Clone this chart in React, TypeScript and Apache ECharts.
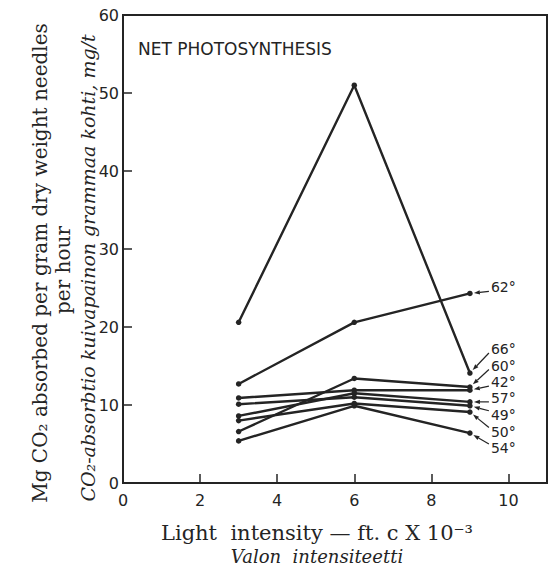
import { useEffect, useRef } from 'react';
import * as echarts from 'echarts';

// Light intensity (ft.c x 10^-3) at which measurements were taken
const lightIntensity = [3, 6, 9];

// Net photosynthesis, mg CO2 per gram dry weight of needles per hour, by temperature
const temperatureLabels = ['66°', '62°', '60°', '42°', '57°', '49°', '50°', '54°'];
const t66 = [20.6, 51.0, 14.1];
const t62 = [12.7, 20.6, 24.3];
const t60 = [6.6, 13.4, 12.3];
const t42 = [10.9, 11.9, 11.9];
const t57 = [8.6, 11.5, 10.4];
const t49 = [10.1, 11.0, 9.9];
const t50 = [8.0, 10.2, 9.1];
const t54 = [5.4, 9.9, 6.4];
const seriesValues = [t66, t62, t60, t42, t57, t49, t50, t54];

// Axis settings
const xMin = 0;
const xMax = 11;
const xInterval = 2;
const xLastLabel = 10;
const yMin = 0;
const yMax = 60;
const yInterval = 10;

// Text
const panelTitle = 'NET PHOTOSYNTHESIS';
const yTitle1 = 'Mg CO₂ absorbed per gram dry weight needles';
const yTitle2 = 'per hour';
const yTitle3 = 'CO₂-absorbtio kuivapainon grammaa kohti, mg/t';
const xTitle1 = 'Light  intensity — ft. c X 10⁻³';
const xTitle2 = 'Valon  intensiteetti';

// end-label placement offsets from the last point (style only)
const labelDx = 21;
const labelDy = [-24, -6, -21.5, -8, -3.5, 9, 19.5, 15];

const INK = '#242424';
const SANS = '"DejaVu Sans", sans-serif';
const SERIF = '"DejaVu Serif", "Liberation Serif", serif';

export default function App() {
  const ref = useRef<HTMLDivElement>(null);

  useEffect(() => {
    if (!ref.current) return;
    const chart = echarts.init(ref.current, undefined, { renderer: 'svg' });

    const series = seriesValues.map((vals, si) => ({
      type: 'line',
      name: temperatureLabels[si],
      data: lightIntensity.map((x, i) => [x, vals[i]]),
      symbol: 'circle',
      symbolSize: 5.5,
      lineStyle: { color: INK, width: 2.4 },
      itemStyle: { color: INK },
      emphasis: { disabled: true },
      z: 3,
    }));

    chart.setOption({
      animation: false,
      backgroundColor: '#ffffff',
      grid: {
        left: 123,
        right: -2,
        top: 15,
        bottom: 84,
        show: true,
        borderColor: INK,
        borderWidth: 2,
        backgroundColor: 'transparent',
      },
      xAxis: {
        type: 'value',
        min: xMin,
        max: xMax,
        interval: xInterval,
        axisLine: { show: true, onZero: false, lineStyle: { color: INK, width: 2 } },
        axisTick: { show: true, inside: true, length: 9, lineStyle: { color: INK, width: 1.5 } },
        splitLine: { show: false },
        axisLabel: {
          margin: 9,
          fontFamily: SANS,
          fontSize: 16,
          color: INK,
          formatter: (v: number) => (v > xLastLabel ? '' : String(v)),
        },
      },
      yAxis: {
        type: 'value',
        min: yMin,
        max: yMax,
        interval: yInterval,
        axisLine: { show: true, onZero: false, lineStyle: { color: INK, width: 2 } },
        axisTick: { show: true, inside: true, length: 9, lineStyle: { color: INK, width: 1.5 } },
        splitLine: { show: false },
        axisLabel: {
          margin: 4,
          fontFamily: SANS,
          fontSize: 16,
          color: INK,
        },
      },
      series,
    });

    // End labels with arrow leaders, positioned from the library's own coordinates
    const labelGraphics: any[] = [];
    seriesValues.forEach((vals, si) => {
      const last = lightIntensity.length - 1;
      const p = chart.convertToPixel({ gridIndex: 0 }, [lightIntensity[last], vals[last]]) as number[];
      const px = p[0];
      const py = p[1];
      const dy = labelDy[si];
      const lx = px + labelDx;
      const ly = py + dy;
      labelGraphics.push({
        type: 'text',
        x: lx,
        y: ly,
        style: {
          text: temperatureLabels[si],
          fontFamily: SANS,
          fontSize: 14,
          fill: INK,
          align: 'left',
          verticalAlign: 'middle',
        },
        z: 10,
      });
      const ax = lx - 2;
      const ay = ly - Math.max(-4, Math.min(4, dy));
      const vx = px - ax;
      const vy = py - ay;
      const len = Math.sqrt(vx * vx + vy * vy) || 1;
      const ux = vx / len;
      const uy = vy / len;
      const tipX = px - ux * 4;
      const tipY = py - uy * 4;
      const baseX = tipX - ux * 6;
      const baseY = tipY - uy * 6;
      const nx = -uy;
      const ny = ux;
      labelGraphics.push({
        type: 'line',
        shape: { x1: ax, y1: ay, x2: baseX, y2: baseY },
        style: { stroke: INK, lineWidth: 1.2 },
        z: 10,
      });
      labelGraphics.push({
        type: 'polygon',
        shape: {
          points: [
            [tipX, tipY],
            [baseX + nx * 2.2, baseY + ny * 2.2],
            [baseX - nx * 2.2, baseY - ny * 2.2],
          ],
        },
        style: { fill: INK },
        z: 10,
      });
    });

    chart.setOption({
      graphic: [
        {
          type: 'text',
          left: 138,
          top: 40,
          style: { text: panelTitle, fontFamily: SANS, fontSize: 17, fill: INK },
        },
        {
          type: 'text',
          x: 40,
          y: 263,
          rotation: Math.PI / 2,
          style: {
            text: yTitle1,
            fontFamily: SERIF,
            fontSize: 20,
            fill: INK,
            align: 'center',
            verticalAlign: 'middle',
          },
        },
        {
          type: 'text',
          x: 63,
          y: 270,
          rotation: Math.PI / 2,
          style: {
            text: yTitle2,
            fontFamily: SERIF,
            fontSize: 20,
            fill: INK,
            align: 'center',
            verticalAlign: 'middle',
          },
        },
        {
          type: 'text',
          x: 88,
          y: 268,
          rotation: Math.PI / 2,
          style: {
            text: yTitle3,
            fontFamily: SERIF,
            fontSize: 19,
            fontStyle: 'italic',
            fill: INK,
            align: 'center',
            verticalAlign: 'middle',
          },
        },
        {
          type: 'text',
          x: 317,
          y: 533,
          style: {
            text: xTitle1,
            fontFamily: SERIF,
            fontSize: 21,
            fill: INK,
            align: 'center',
            verticalAlign: 'middle',
          },
        },
        {
          type: 'text',
          x: 317,
          y: 556,
          style: {
            text: xTitle2,
            fontFamily: SERIF,
            fontSize: 18,
            fontStyle: 'italic',
            fill: INK,
            align: 'center',
            verticalAlign: 'middle',
          },
        },
        ...labelGraphics,
      ],
    });

    return () => chart.dispose();
  }, []);

  return (
    <div
      ref={ref}
      style={{ position: 'fixed', left: 0, top: 0, width: 550, height: 567, background: '#fff' }}
    />
  );
}
